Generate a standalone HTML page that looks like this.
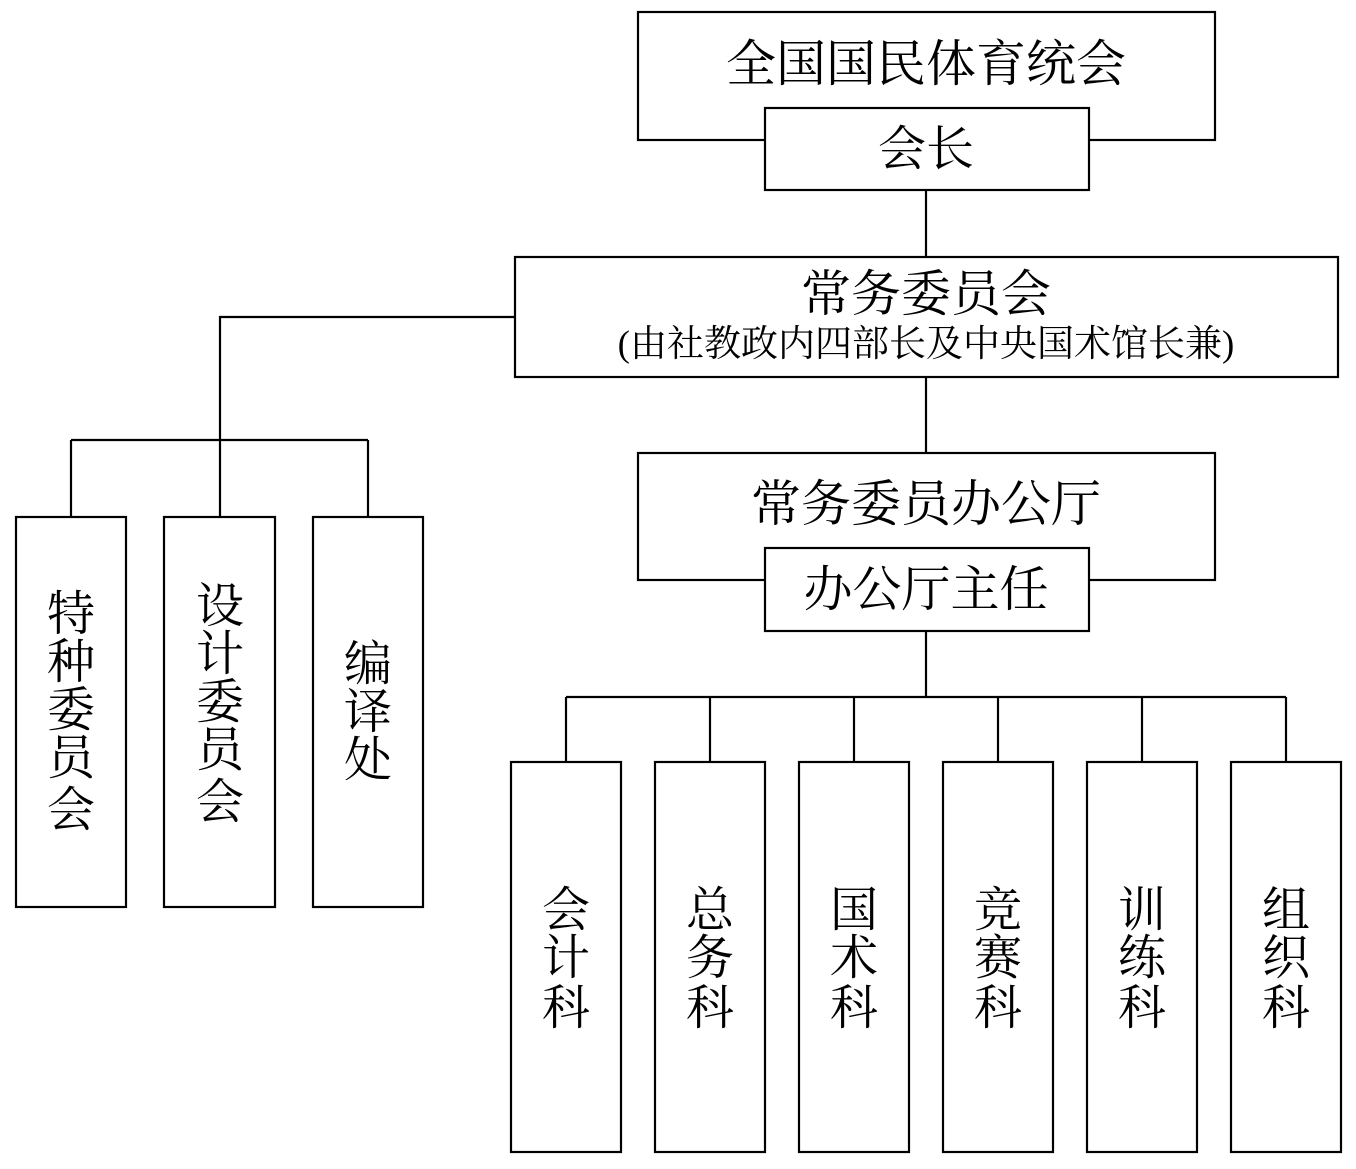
<!DOCTYPE html>
<html><head><meta charset="utf-8"><style>
html,body{margin:0;padding:0;background:#fff}
svg text{font-family:"Liberation Serif","Noto Serif CJK SC",serif;fill:#000}
</style></head><body>
<svg width="1356" height="1164" viewBox="0 0 1356 1164" xmlns="http://www.w3.org/2000/svg">
<g fill="none" stroke="#000" stroke-width="2.2">
<rect x="638" y="12" width="577" height="128"/>
<rect x="765" y="108" width="324" height="82" fill="#fff"/>
<line x1="926" y1="190" x2="926" y2="257"/>
<rect x="515" y="257" width="823" height="120"/>
<line x1="926" y1="377" x2="926" y2="453"/>
<rect x="638" y="453" width="577" height="127"/>
<rect x="765" y="548" width="324" height="83" fill="#fff"/>
<polyline points="926,631 926,697"/>
<line x1="566" y1="697" x2="1286" y2="697"/>
<line x1="566" y1="697" x2="566" y2="762"/>
<line x1="710" y1="697" x2="710" y2="762"/>
<line x1="854" y1="697" x2="854" y2="762"/>
<line x1="998" y1="697" x2="998" y2="762"/>
<line x1="1142" y1="697" x2="1142" y2="762"/>
<line x1="1286" y1="697" x2="1286" y2="762"/>
<rect x="511" y="762" width="110" height="390"/>
<rect x="655" y="762" width="110" height="390"/>
<rect x="799" y="762" width="110" height="390"/>
<rect x="943" y="762" width="110" height="390"/>
<rect x="1087" y="762" width="110" height="390"/>
<rect x="1231" y="762" width="110" height="390"/>
<polyline points="515,317 220,317 220,440"/>
<line x1="71" y1="440" x2="368" y2="440"/>
<line x1="71" y1="440" x2="71" y2="517"/>
<line x1="220" y1="440" x2="220" y2="517"/>
<line x1="368" y1="440" x2="368" y2="517"/>
<rect x="16" y="517" width="110" height="390"/>
<rect x="164" y="517" width="111" height="390"/>
<rect x="313" y="517" width="110" height="390"/>
</g>
<g text-anchor="middle" font-size="50">
<text x="926" y="81">全国国民体育统会</text>
<text x="926" y="165" font-size="48">会长</text>
<text x="926" y="311">常务委员会</text>
<text x="926" y="356" font-size="37">(由社教政内四部长及中央国术馆长兼)</text>
<text x="926" y="521">常务委员办公厅</text>
<text x="926" y="606" font-size="49">办公厅主任</text>
</g>
<g text-anchor="middle" font-size="48">
<text><tspan x="566" y="926">会</tspan><tspan x="566" y="974">计</tspan><tspan x="566" y="1024">科</tspan></text>
<text><tspan x="710" y="926">总</tspan><tspan x="710" y="974">务</tspan><tspan x="710" y="1024">科</tspan></text>
<text><tspan x="854" y="926">国</tspan><tspan x="854" y="974">术</tspan><tspan x="854" y="1024">科</tspan></text>
<text><tspan x="998" y="926">竞</tspan><tspan x="998" y="974">赛</tspan><tspan x="998" y="1024">科</tspan></text>
<text><tspan x="1142" y="926">训</tspan><tspan x="1142" y="974">练</tspan><tspan x="1142" y="1024">科</tspan></text>
<text><tspan x="1286" y="926">组</tspan><tspan x="1286" y="974">织</tspan><tspan x="1286" y="1024">科</tspan></text>
<text><tspan x="71" y="630">特</tspan><tspan x="71" y="678">种</tspan><tspan x="71" y="726">委</tspan><tspan x="71" y="774">员</tspan><tspan x="71" y="826">会</tspan></text>
<text><tspan x="220" y="622">设</tspan><tspan x="220" y="670">计</tspan><tspan x="220" y="718">委</tspan><tspan x="220" y="766">员</tspan><tspan x="220" y="818">会</tspan></text>
<text><tspan x="368" y="680">编</tspan><tspan x="368" y="728">译</tspan><tspan x="368" y="776">处</tspan></text>
</g>
</svg>
</body></html>
